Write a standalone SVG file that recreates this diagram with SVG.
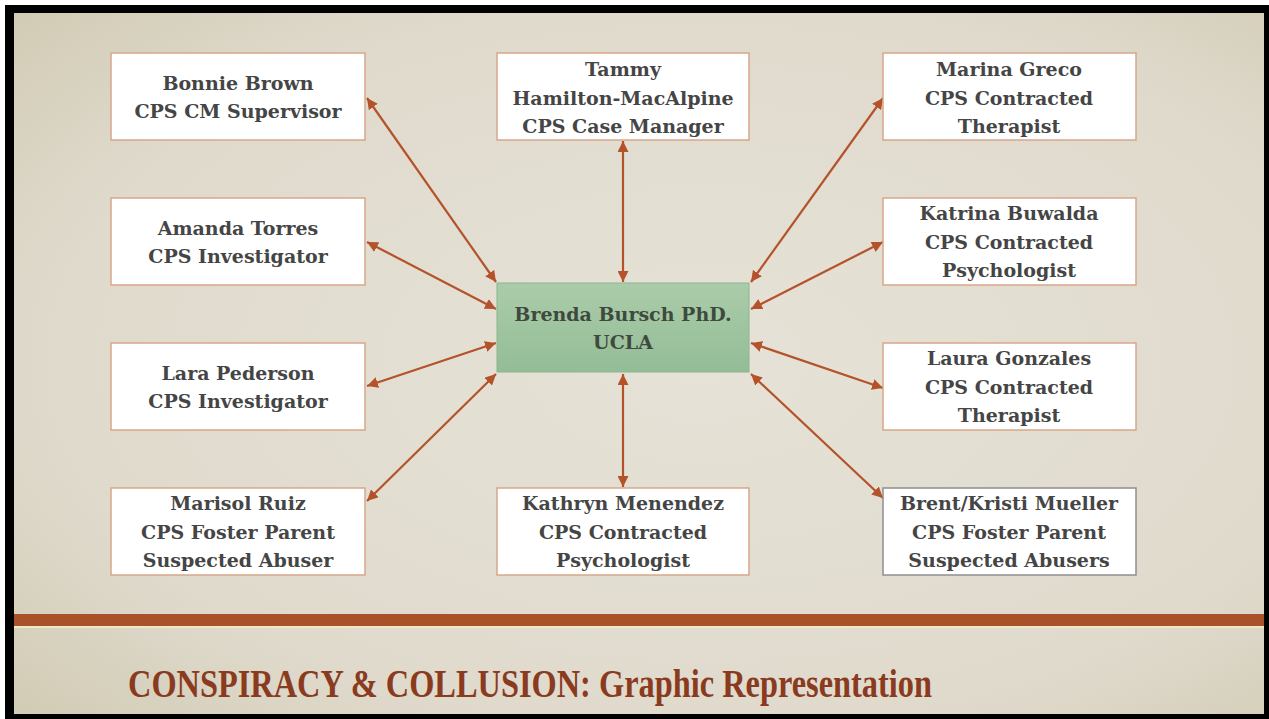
<svg xmlns="http://www.w3.org/2000/svg" width="1269" height="719" viewBox="0 0 1269 719">
<defs>
<radialGradient id="bg" cx="0.55" cy="0.5" r="0.8">
<stop offset="0" stop-color="#E6E2D7"/>
<stop offset="0.65" stop-color="#DFDACC"/>
<stop offset="1" stop-color="#CEC8AF"/>
</radialGradient>
<linearGradient id="green" x1="0" y1="0" x2="0" y2="1">
<stop offset="0" stop-color="#ABCCAA"/>
<stop offset="1" stop-color="#93BD96"/>
</linearGradient>
<marker id="ah" viewBox="0 0 10 10" refX="10" refY="5" markerWidth="5" markerHeight="5" orient="auto-start-reverse" markerUnits="strokeWidth">
<path d="M0,0 L10,5 L0,10 z" fill="#B4532B"/>
</marker>
<style>
.box{fill:#FFFFFF;stroke:#D7A689;stroke-width:1.5}
.t{font-family:"DejaVu Serif","Liberation Serif",serif;font-weight:bold;font-size:19px;fill:#454545;text-anchor:middle}
.c{stroke:#B4532B;stroke-width:2.2;fill:none;marker-start:url(#ah);marker-end:url(#ah)}
</style>
</defs>
<rect x="0" y="0" width="1269" height="719" fill="#FFFFFF"/>
<rect x="5" y="5" width="1264" height="714" fill="#000000"/>
<rect x="14" y="13" width="1250" height="701" fill="url(#bg)"/>
<rect x="14" y="614" width="1250" height="12" fill="#A9522A"/>
<rect x="14" y="626" width="1250" height="2" fill="#EDE8C8"/>
<text x="128" y="697" font-family="Liberation Serif, serif" font-weight="bold" font-size="39" fill="#8A3B1F" textLength="804" lengthAdjust="spacingAndGlyphs">CONSPIRACY &amp; COLLUSION: Graphic Representation</text>

<g id="connectors">
<line class="c" x1="496" y1="282" x2="367" y2="98"/>
<line class="c" x1="623" y1="282" x2="623" y2="141"/>
<line class="c" x1="751" y1="282" x2="883" y2="98"/>
<line class="c" x1="496" y1="309" x2="367" y2="242"/>
<line class="c" x1="751" y1="309" x2="883" y2="242"/>
<line class="c" x1="496" y1="343" x2="367" y2="386"/>
<line class="c" x1="751" y1="343" x2="883" y2="388"/>
<line class="c" x1="496" y1="374" x2="367" y2="501"/>
<line class="c" x1="623" y1="374" x2="623" y2="487"/>
<line class="c" x1="751" y1="374" x2="883" y2="498"/>
</g>

<g id="bonnie"><rect class="box" x="111" y="53" width="254" height="87"/>
<text class="t" x="238" y="90">Bonnie Brown</text><text class="t" x="238" y="118">CPS CM Supervisor</text></g>
<g id="tammy"><rect class="box" x="497" y="53" width="252" height="87"/>
<text class="t" x="623" y="76">Tammy</text><text class="t" x="623" y="105">Hamilton-MacAlpine</text><text class="t" x="623" y="133">CPS Case Manager</text></g>
<g id="marina"><rect class="box" x="883" y="53" width="253" height="87"/>
<text class="t" x="1009" y="76">Marina Greco</text><text class="t" x="1009" y="105">CPS Contracted</text><text class="t" x="1009" y="133">Therapist</text></g>
<g id="amanda"><rect class="box" x="111" y="198" width="254" height="87"/>
<text class="t" x="238" y="235">Amanda Torres</text><text class="t" x="238" y="263">CPS Investigator</text></g>
<g id="katrina"><rect class="box" x="883" y="198" width="253" height="87"/>
<text class="t" x="1009" y="220">Katrina Buwalda</text><text class="t" x="1009" y="249">CPS Contracted</text><text class="t" x="1009" y="277">Psychologist</text></g>
<g id="center"><rect x="497" y="283" width="252" height="89" fill="url(#green)" stroke="#8CB48F" stroke-width="1"/>
<text class="t" x="623" y="321" style="fill:#3E4A3E">Brenda Bursch PhD.</text><text class="t" x="623" y="349" style="fill:#3E4A3E">UCLA</text></g>
<g id="lara"><rect class="box" x="111" y="343" width="254" height="87"/>
<text class="t" x="238" y="380">Lara Pederson</text><text class="t" x="238" y="408">CPS Investigator</text></g>
<g id="laura"><rect class="box" x="883" y="343" width="253" height="87"/>
<text class="t" x="1009" y="365">Laura Gonzales</text><text class="t" x="1009" y="394">CPS Contracted</text><text class="t" x="1009" y="422">Therapist</text></g>
<g id="marisol"><rect class="box" x="111" y="488" width="254" height="87"/>
<text class="t" x="238" y="510">Marisol Ruiz</text><text class="t" x="238" y="539">CPS Foster Parent</text><text class="t" x="238" y="567">Suspected Abuser</text></g>
<g id="kathryn"><rect class="box" x="497" y="488" width="252" height="87"/>
<text class="t" x="623" y="510">Kathryn Menendez</text><text class="t" x="623" y="539">CPS Contracted</text><text class="t" x="623" y="567">Psychologist</text></g>
<g id="brent"><rect class="box" x="883" y="488" width="253" height="87" style="stroke:#8F8F8F"/>
<text class="t" x="1009" y="510">Brent/Kristi Mueller</text><text class="t" x="1009" y="539">CPS Foster Parent</text><text class="t" x="1009" y="567">Suspected Abusers</text></g>
</svg>
